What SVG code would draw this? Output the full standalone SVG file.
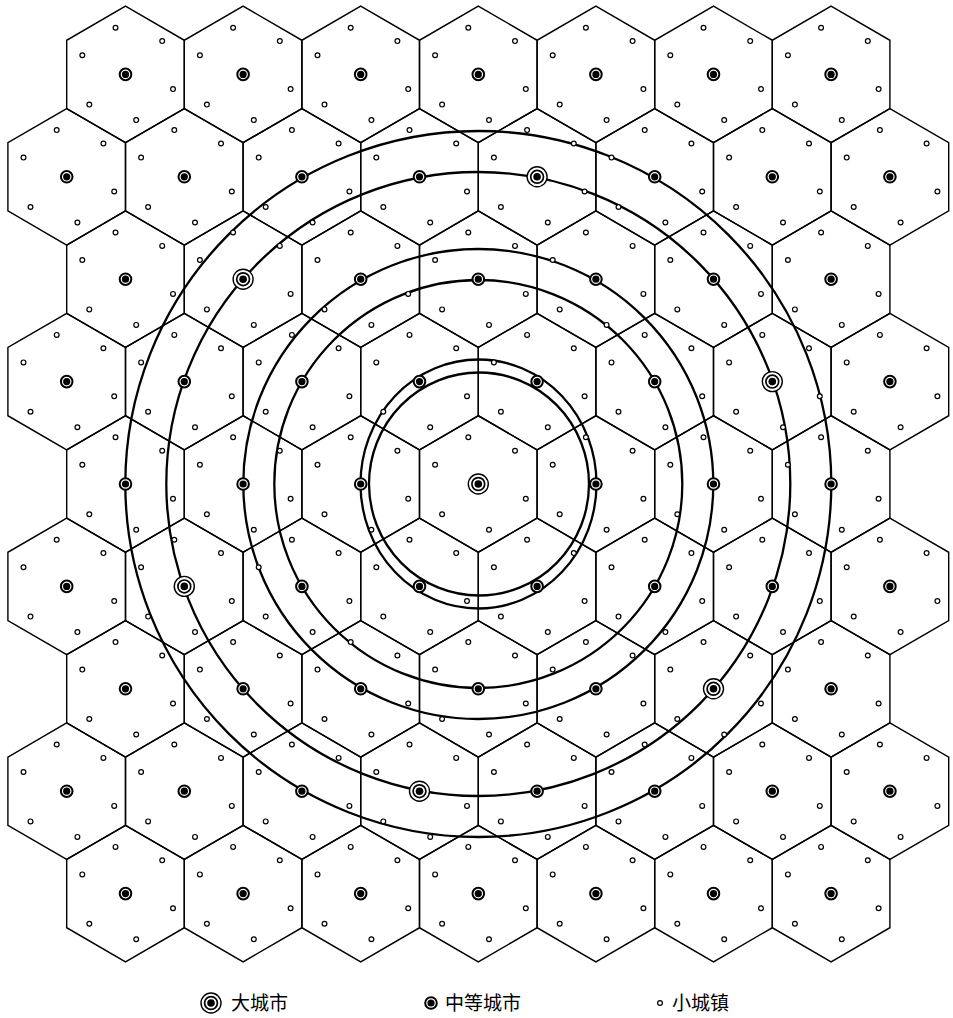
<svg xmlns="http://www.w3.org/2000/svg" width="953" height="1018" viewBox="0 0 953 1018">
<style>
.hex{fill:none;stroke:#000;stroke-width:1.4;stroke-linejoin:miter}
.town{fill:#fff;stroke:#000;stroke-width:1.2}
.ring{fill:none;stroke:#000;stroke-width:2.3}
.lbl{font-family:"Noto Sans CJK SC","Noto Sans",sans-serif;font-size:19px;fill:#000}
</style>
<defs>
<polygon id="hex" class="hex" points="0,-68.27 58.8,-34.13 58.8,34.13 0,68.27 -58.8,34.13 -58.8,-34.13"/>
<circle id="town" class="town" r="2.4"/>
<g id="towns">
<use href="#town" x="-10" y="-46.7"/>
<use href="#town" x="36.7" y="-33.3"/>
<use href="#town" x="-43.2" y="-19.2"/>
<use href="#town" x="47.5" y="14.7"/>
<use href="#town" x="-36.2" y="30.2"/>
<use href="#town" x="10.7" y="45.7"/>
</g>
<g id="mid">
<circle r="5.8" fill="#fff" stroke="#000" stroke-width="2"/>
<circle r="3.6" fill="#000"/>
</g>
<g id="big">
<circle r="10" fill="#fff" stroke="#000" stroke-width="1.4"/>
<circle r="6.4" fill="none" stroke="#000" stroke-width="1.7"/>
<circle r="3.8" fill="#000"/>
</g>
<g id="cell"><use href="#hex"/><use href="#towns"/><use href="#mid"/></g>
<g id="cellL"><use href="#hex"/><use href="#towns"/><use href="#big"/></g>
</defs>
<rect width="953" height="1018" fill="#fff"/>
<g id="connectors">
<circle class="ring" cx="478.3" cy="484" r="353"/>
<circle class="ring" cx="478.3" cy="484" r="312"/>
<circle class="ring" cx="478.3" cy="484" r="235"/>
<circle class="ring" cx="478.3" cy="484" r="204"/>
<ellipse class="ring" cx="478.5" cy="484" rx="118" ry="124.5"/>
<ellipse class="ring" cx="479" cy="484" rx="110" ry="111.5"/>
</g>
<g id="cells">
<g id="c0-0" transform="translate(125.5,74.4)"><use href="#cell"/></g>
<g id="c0-1" transform="translate(243.1,74.4)"><use href="#cell"/></g>
<g id="c0-2" transform="translate(360.7,74.4)"><use href="#cell"/></g>
<g id="c0-3" transform="translate(478.3,74.4)"><use href="#cell"/></g>
<g id="c0-4" transform="translate(595.9,74.4)"><use href="#cell"/></g>
<g id="c0-5" transform="translate(713.5,74.4)"><use href="#cell"/></g>
<g id="c0-6" transform="translate(831.1,74.4)"><use href="#cell"/></g>
<g id="c1-0" transform="translate(66.7,176.8)"><use href="#cell"/></g>
<g id="c1-1" transform="translate(184.3,176.8)"><use href="#cell"/></g>
<g id="c1-2" transform="translate(301.9,176.8)"><use href="#cell"/></g>
<g id="c1-3" transform="translate(419.5,176.8)"><use href="#cell"/></g>
<g id="c1-4" transform="translate(537.1,176.8)"><use href="#cellL"/></g>
<g id="c1-5" transform="translate(654.7,176.8)"><use href="#cell"/></g>
<g id="c1-6" transform="translate(772.3,176.8)"><use href="#cell"/></g>
<g id="c1-7" transform="translate(889.9,176.8)"><use href="#cell"/></g>
<g id="c2-0" transform="translate(125.5,279.2)"><use href="#cell"/></g>
<g id="c2-1" transform="translate(243.1,279.2)"><use href="#cellL"/></g>
<g id="c2-2" transform="translate(360.7,279.2)"><use href="#cell"/></g>
<g id="c2-3" transform="translate(478.3,279.2)"><use href="#cell"/></g>
<g id="c2-4" transform="translate(595.9,279.2)"><use href="#cell"/></g>
<g id="c2-5" transform="translate(713.5,279.2)"><use href="#cell"/></g>
<g id="c2-6" transform="translate(831.1,279.2)"><use href="#cell"/></g>
<g id="c3-0" transform="translate(66.7,381.6)"><use href="#cell"/></g>
<g id="c3-1" transform="translate(184.3,381.6)"><use href="#cell"/></g>
<g id="c3-2" transform="translate(301.9,381.6)"><use href="#cell"/></g>
<g id="c3-3" transform="translate(419.5,381.6)"><use href="#cell"/></g>
<g id="c3-4" transform="translate(537.1,381.6)"><use href="#cell"/></g>
<g id="c3-5" transform="translate(654.7,381.6)"><use href="#cell"/></g>
<g id="c3-6" transform="translate(772.3,381.6)"><use href="#cellL"/></g>
<g id="c3-7" transform="translate(889.9,381.6)"><use href="#cell"/></g>
<g id="c4-0" transform="translate(125.5,484)"><use href="#cell"/></g>
<g id="c4-1" transform="translate(243.1,484)"><use href="#cell"/></g>
<g id="c4-2" transform="translate(360.7,484)"><use href="#cell"/></g>
<g id="c4-3" transform="translate(478.3,484)"><use href="#cellL"/></g>
<g id="c4-4" transform="translate(595.9,484)"><use href="#cell"/></g>
<g id="c4-5" transform="translate(713.5,484)"><use href="#cell"/></g>
<g id="c4-6" transform="translate(831.1,484)"><use href="#cell"/></g>
<g id="c5-0" transform="translate(66.7,586.4)"><use href="#cell"/></g>
<g id="c5-1" transform="translate(184.3,586.4)"><use href="#cellL"/></g>
<g id="c5-2" transform="translate(301.9,586.4)"><use href="#cell"/></g>
<g id="c5-3" transform="translate(419.5,586.4)"><use href="#cell"/></g>
<g id="c5-4" transform="translate(537.1,586.4)"><use href="#cell"/></g>
<g id="c5-5" transform="translate(654.7,586.4)"><use href="#cell"/></g>
<g id="c5-6" transform="translate(772.3,586.4)"><use href="#cell"/></g>
<g id="c5-7" transform="translate(889.9,586.4)"><use href="#cell"/></g>
<g id="c6-0" transform="translate(125.5,688.8)"><use href="#cell"/></g>
<g id="c6-1" transform="translate(243.1,688.8)"><use href="#cell"/></g>
<g id="c6-2" transform="translate(360.7,688.8)"><use href="#cell"/></g>
<g id="c6-3" transform="translate(478.3,688.8)"><use href="#cell"/></g>
<g id="c6-4" transform="translate(595.9,688.8)"><use href="#cell"/></g>
<g id="c6-5" transform="translate(713.5,688.8)"><use href="#cellL"/></g>
<g id="c6-6" transform="translate(831.1,688.8)"><use href="#cell"/></g>
<g id="c7-0" transform="translate(66.7,791.2)"><use href="#cell"/></g>
<g id="c7-1" transform="translate(184.3,791.2)"><use href="#cell"/></g>
<g id="c7-2" transform="translate(301.9,791.2)"><use href="#cell"/></g>
<g id="c7-3" transform="translate(419.5,791.2)"><use href="#cellL"/></g>
<g id="c7-4" transform="translate(537.1,791.2)"><use href="#cell"/></g>
<g id="c7-5" transform="translate(654.7,791.2)"><use href="#cell"/></g>
<g id="c7-6" transform="translate(772.3,791.2)"><use href="#cell"/></g>
<g id="c7-7" transform="translate(889.9,791.2)"><use href="#cell"/></g>
<g id="c8-0" transform="translate(125.5,893.6)"><use href="#cell"/></g>
<g id="c8-1" transform="translate(243.1,893.6)"><use href="#cell"/></g>
<g id="c8-2" transform="translate(360.7,893.6)"><use href="#cell"/></g>
<g id="c8-3" transform="translate(478.3,893.6)"><use href="#cell"/></g>
<g id="c8-4" transform="translate(595.9,893.6)"><use href="#cell"/></g>
<g id="c8-5" transform="translate(713.5,893.6)"><use href="#cell"/></g>
<g id="c8-6" transform="translate(831.1,893.6)"><use href="#cell"/></g>
</g>
<g id="legend">
<g id="legend-big"><use href="#big" x="211" y="1003"/><text class="lbl" x="231" y="1010">大城市</text></g>
<g id="legend-mid"><use href="#mid" x="431" y="1003"/><text class="lbl" x="445" y="1010">中等城市</text></g>
<g id="legend-town"><use href="#town" x="660" y="1003"/><text class="lbl" x="672" y="1010">小城镇</text></g>
</g>
</svg>
